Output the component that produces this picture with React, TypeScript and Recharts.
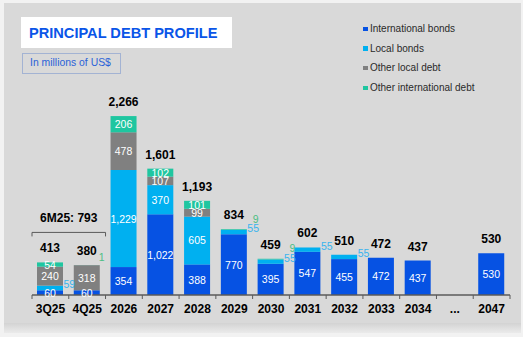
import React from 'react';
import { BarChart, Bar, XAxis, YAxis, LabelList, Legend, ReferenceLine } from 'recharts';

const CATEGORIES = ['3Q25', '4Q25', '2026', '2027', '2028', '2029', '2030', '2031', '2032', '2033', '2034', '...', '2047'];
const INTL_BONDS = [60, 60, 354, 1022, 388, 770, 395, 547, 455, 472, 437, 0, 530];
const LOCAL_BONDS = [59, 0, 1229, 370, 605, 55, 55, 55, 55, 0, 0, 0, 0];
const OTHER_LOCAL = [240, 318, 478, 107, 99, 0, 0, 0, 0, 0, 0, 0, 0];
const OTHER_INTL = [54, 1, 206, 102, 101, 9, 9, 0, 0, 0, 0, 0, 0];
const TOTALS = [413, 380, 2266, 1601, 1193, 834, 459, 602, 510, 472, 437, null, 530];
const BRACKET = { from: '3Q25', to: '4Q25', value: 793, label: '6M25: 793' };

const SERIES = [
  { key: 'intl', name: 'International bonds', color: '#0652e3' },
  { key: 'local', name: 'Local bonds', color: '#00b0f0' },
  { key: 'otherLocal', name: 'Other local debt', color: '#808080' },
  { key: 'otherIntl', name: 'Other international debt', color: '#1fc6a0' },
];

const data = CATEGORIES.map((cat, i) => ({
  cat,
  intl: INTL_BONDS[i],
  local: LOCAL_BONDS[i],
  otherLocal: OTHER_LOCAL[i],
  otherIntl: OTHER_INTL[i],
  total: TOTALS[i],
}));

const W = 523;
const H = 337;
const M = { top: 74, right: 13, bottom: 0, left: 32 };
const BAND = (W - M.left - M.right) / CATEGORIES.length;
const FONT = '"Liberation Sans", Arial, sans-serif';
const AXIS = '#5a5a5a';

const fmt = (v: number) => v.toLocaleString('en-US');

const geom = (p: any) => {
  const vb = p.viewBox || {};
  return {
    x: Number(p.x ?? vb.x),
    y: Number(p.y ?? vb.y),
    width: Number(p.width ?? vb.width),
    height: Number(p.height ?? vb.height),
  };
};

// find the data row of a bar from its band position
const rowAt = (x: number, width: number) => {
  const i = Math.round((x + width / 2 - M.left - BAND / 2) / BAND);
  return data[Math.max(0, Math.min(data.length - 1, i))];
};

const inside = (x: number, y: number, w: number, h: number, v: number) => (
  <text x={x + w / 2} y={y + h / 2} fill="#ffffff" fontSize={10.5} fontFamily={FONT}
    textAnchor="middle" dominantBaseline="central">{fmt(v)}</text>
);

const intlLabel = (p: any) => {
  const { value } = p;
  if (value == null || value <= 0) return null;
  const { x, y, width, height } = geom(p);
  const row = rowAt(x, width);
  const total = row ? row.total : null;
  const base = y + height;
  const top = total != null ? base - total * (height / value) : null;
  return (
    <g>
      {inside(x, y, width, height, value)}
      {top != null && (
        <text x={x + width / 2} y={top - 10} fill="#000000" fontSize={12} fontWeight="bold"
          fontFamily={FONT} textAnchor="middle">{fmt(total as number)}</text>
      )}
    </g>
  );
};

const localLabel = (p: any) => {
  const { value } = p;
  if (value == null || value <= 0) return null;
  const { x, y, width, height } = geom(p);
  if (value > 100) return inside(x, y, width, height, value);
  return (
    <text x={x + width + 0.5} y={y - 1.5} fill="#38b4ee" fontSize={10.5} fontFamily={FONT}
      textAnchor="start" dominantBaseline="central">{fmt(value)}</text>
  );
};

const otherLocalLabel = (p: any) => {
  const { value } = p;
  if (value == null || value <= 0) return null;
  const { x, y, width, height } = geom(p);
  return inside(x, y, width, height, value);
};

const otherIntlLabel = (p: any) => {
  const { value } = p;
  if (value == null || value <= 0) return null;
  const { x, y, width, height } = geom(p);
  if (value > 20) return inside(x, y, width, height, value);
  const row = rowAt(x, width);
  const hasLocalSide = row && row.local != null && row.local > 0 && row.local <= 100;
  const tx = hasLocalSide ? x + width + 6 : x + width - 1;
  const ty = hasLocalSide ? y + height - 11 : y - 8;
  return (
    <text x={tx} y={ty} fill="#4cbf84" fontSize={10.5} fontFamily={FONT}
      textAnchor="start" dominantBaseline="central">{fmt(value)}</text>
  );
};

const Tick = (p: any) => {
  const { x, y, payload, index } = p;
  const last = index === CATEGORIES.length - 1;
  return (
    <g>
      <line x1={x - BAND / 2} x2={x - BAND / 2} y1={y} y2={y + 4} stroke={AXIS} strokeWidth={1} />
      {last && <line x1={x + BAND / 2} x2={x + BAND / 2} y1={y} y2={y + 4} stroke={AXIS} strokeWidth={1} />}
      <text x={x} y={y + 18} fill="#000000" fontSize={12} fontWeight="bold" fontFamily={FONT}
        textAnchor="middle">{payload.value}</text>
    </g>
  );
};

const BracketShape = (p: any) => {
  const { x1, x2, y1 } = p;
  const l = x1 - BAND / 2;
  const r = x2 + BAND / 2;
  return (
    <g>
      <path d={`M${l},${y1 + 4} L${l},${y1} L${r},${y1} L${r},${y1 + 4}`} fill="none" stroke={AXIS} strokeWidth={1} />
      <text x={(l + r) / 2} y={y1 - 10} fill="#000000" fontSize={12} fontWeight="bold" fontFamily={FONT}
        textAnchor="middle">{BRACKET.label}</text>
    </g>
  );
};

const LegendContent = (p: any) => {
  const payload = p.payload || [];
  const items = SERIES.map((s) => {
    const found = payload.find((it: any) => it.dataKey === s.key || it.value === s.name);
    return { name: found ? found.value : s.name, color: found ? found.color : s.color };
  });
  return (
    <div style={{ fontFamily: FONT, fontSize: 10, color: '#2a2a2a' }}>
      {items.map((it) => (
        <div key={it.name} style={{ position: 'relative', height: 19.7, lineHeight: '19.7px', whiteSpace: 'nowrap' }}>
          <span style={{ position: 'absolute', left: 4, top: 7.5, width: 4.5, height: 4.5, background: it.color }} />
          <span style={{ position: 'absolute', left: 11, top: 0 }}>{it.name}</span>
        </div>
      ))}
    </div>
  );
};

export default function App() {
  return (
    <div style={{ position: 'absolute', left: 0, top: 0, width: W, height: H, background: '#f2f2f2', overflow: 'hidden' }}>
      <div style={{ position: 'absolute', left: 4, top: 3, width: 517, height: 320, background: '#d9d9d9' }} />
      <div style={{ position: 'absolute', left: 4, top: 323, width: 517, height: 10, background: 'linear-gradient(#d3d3d3, #ebebeb)' }} />
      <div style={{ position: 'absolute', left: 21, top: 17, width: 211, height: 31, background: '#ffffff' }} />
      <div style={{ position: 'absolute', left: 29, top: 24, fontFamily: FONT, fontWeight: 'bold', fontSize: 14.6, color: '#0a55e8', whiteSpace: 'nowrap', lineHeight: '18px' }}>
        PRINCIPAL DEBT PROFILE
      </div>
      <div style={{ position: 'absolute', left: 22, top: 53, width: 97, height: 19, border: '1px solid #a3b3d3', boxSizing: 'content-box' }} />
      <div style={{ position: 'absolute', left: 30, top: 56, fontFamily: FONT, fontSize: 10.4, color: '#2a62d8', whiteSpace: 'nowrap', lineHeight: '14px' }}>
        In millions of US$
      </div>
      <div style={{ position: 'absolute', left: 0, top: 0 }}>
        <BarChart width={W} height={H} data={data} margin={M}>
          <XAxis dataKey="cat" interval={0} height={42} tickSize={0} tickMargin={0} tickLine={false}
            axisLine={{ stroke: AXIS, strokeWidth: 1.5 }} tick={<Tick />} />
          <YAxis hide domain={[0, 2800]} />
          <Legend layout="vertical" align="center" verticalAlign="middle" content={<LegendContent />}
            wrapperStyle={{ left: 359, top: 19, width: 160, height: 80 }} />
          <Bar dataKey="intl" name={SERIES[0].name} stackId="a" fill={SERIES[0].color} barSize={26} isAnimationActive={false}>
            <LabelList dataKey="intl" content={intlLabel} />
          </Bar>
          <Bar dataKey="local" name={SERIES[1].name} stackId="a" fill={SERIES[1].color} barSize={26} isAnimationActive={false}>
            <LabelList dataKey="local" content={localLabel} />
          </Bar>
          <Bar dataKey="otherLocal" name={SERIES[2].name} stackId="a" fill={SERIES[2].color} barSize={26} isAnimationActive={false}>
            <LabelList dataKey="otherLocal" content={otherLocalLabel} />
          </Bar>
          <Bar dataKey="otherIntl" name={SERIES[3].name} stackId="a" fill={SERIES[3].color} barSize={26} isAnimationActive={false}>
            <LabelList dataKey="otherIntl" content={otherIntlLabel} />
          </Bar>
          <ReferenceLine segment={[{ x: BRACKET.from, y: BRACKET.value }, { x: BRACKET.to, y: BRACKET.value }]}
            shape={<BracketShape />} ifOverflow="visible" />
        </BarChart>
      </div>
    </div>
  );
}
